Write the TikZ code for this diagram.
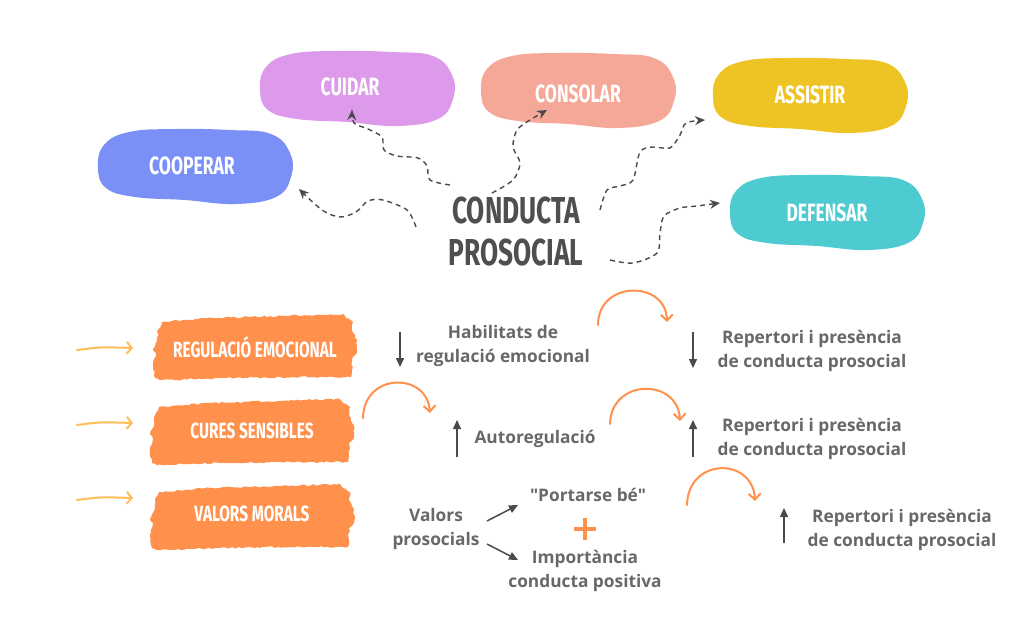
\documentclass[tikz,border=0pt]{standalone}
\usepackage{fontspec}
\setmainfont{Open Sans}
\newfontfamily\hand{Fira Sans}[FakeStretch=0.7]
\usetikzlibrary{arrows.meta,decorations.pathmorphing}
\definecolor{cblue}{HTML}{7A90F7}
\definecolor{cpink}{HTML}{DD99EA}
\definecolor{csalmon}{HTML}{F6A898}
\definecolor{cyel}{HTML}{EDC424}
\definecolor{cteal}{HTML}{4ECBD0}
\definecolor{corange}{HTML}{FF914D}
\definecolor{clight}{HTML}{FFBD59}
\definecolor{ctitle}{HTML}{4F4F4F}
\definecolor{ctext}{HTML}{686868}
\definecolor{carrow}{HTML}{4A4A4A}
\newcommand\myblob[3]{\fill[#3,shift={(#1,#2)}] plot[smooth cycle,tension=0.7] coordinates {(-97,2) (-91,-21) (-66,-34) (-20,-37) (35,-36) (76,-32) (95,-13) (96,11) (81,31) (40,38) (-10,34) (-60,31) (-89,22)};}
\newcommand\mybrush[2]{\fill[corange,shift={(#1,#2)},decorate,decoration={random steps,segment length=3pt,amplitude=0.9pt}] (9,9) -- (60,5) -- (130,3) -- (190,1) -- (193,5) -- (200,9) -- (199,17) -- (204,27) -- (204,40) -- (199,45) -- (199,57) -- (198,64) -- (140,64) -- (70,65) -- (7,67) -- (2,65) -- (0,52) -- (3,40) -- (0,36) -- (4,28) -- (5,17) -- cycle;}
\begin{document}
\begin{tikzpicture}[x=1pt,y=-1pt,
  blobtext/.style={text=white,font=\hand\bfseries\fontsize{25}{28}\selectfont,inner sep=0pt},
  brushtext/.style={text=white,font=\hand\bfseries\fontsize{22}{24}\selectfont,inner sep=0pt},
  titletext/.style={text=ctitle,font=\hand\bfseries\fontsize{37.5}{41}\selectfont,align=center,inner sep=0pt},
  body/.style={text=ctext,font=\bfseries\fontsize{17.3}{24}\selectfont,align=center,inner sep=0pt},
  dasharrow/.style={draw=carrow,line width=1.4pt,dash pattern=on 5pt off 4pt,-{Stealth[length=10pt,width=9pt]}},
  grayarrow/.style={draw=carrow,line width=1.5pt,-{Triangle[length=9pt,width=8pt]}},
  orarc/.style={draw=corange,line width=2pt,line cap=round,-{Straight Barb[length=6pt,width=12pt]}},
  yarrow/.style={draw=clight,line width=2pt,line cap=round,-{Straight Barb[length=5pt,width=12pt]}}]
\pgfmathsetseed{7}
\useasboundingbox[fill=white] (0,0) rectangle (1024,639);
% blobs
\myblob{195}{166}{cblue}
\myblob{357}{88}{cpink}
\myblob{578}{90}{csalmon}
\myblob{810}{95}{cyel}
\myblob{827}{212}{cteal}
\node[blobtext] (coop) at (192,166) {COOPERAR};
\node[blobtext] (cuid) at (350,87) {CUIDAR};
\node[blobtext] (cons) at (578,94) {CONSOLAR};
\node[blobtext] (assi) at (810,95) {ASSISTIR};
\node[blobtext] (defe) at (827,213) {DEFENSAR};
\node[titletext] (title) at (516,232) {CONDUCTA\\[1pt]PROSOCIAL};
% dashed connectors
\coordinate (s1) at (416,227); \coordinate (e1) at (299,189);
\coordinate (s2) at (450,185); \coordinate (e2) at (352,110);
\coordinate (s3) at (492,193); \coordinate (e3) at (547,110);
\coordinate (s4) at (600,210); \coordinate (e4) at (705,120);
\coordinate (s5) at (610,260); \coordinate (e5) at (720,203);
\draw[dasharrow] plot[smooth] coordinates {(s1) (407,210) (383,200) (368,201) (356,212) (340,217) (322,210) (e1)};
\draw[dasharrow] plot[smooth] coordinates {(s2) (430,180) (427,166) (418,158) (397,156) (384,150) (382,137) (368,129) (354,123) (e2)};
\draw[dasharrow] plot[smooth] coordinates {(s3) (513,180) (520,163) (513,147) (517,130) (530,120) (e3)};
\draw[dasharrow] plot[smooth] coordinates {(s4) (607,190) (620,186) (633,180) (640,152) (653,147) (670,148) (680,135) (686,123) (e4)};
\draw[dasharrow] plot[smooth] coordinates {(s5) (633,263) (657,253) (660,233) (664,216) (680,208) (697,206) (e5)};
% brushes
\mybrush{153}{313}
\mybrush{150}{398}
\mybrush{150}{483}
\node[brushtext] (reg) at (255,347) {REGULACIÓ EMOCIONAL};
\node[brushtext] (cur) at (252,431) {CURES SENSIBLES};
\node[brushtext] (val) at (252,514) {VALORS MORALS};
% yellow arrows
\coordinate (y1s) at (77,350); \coordinate (y1e) at (133,348);
\coordinate (y2s) at (77,425); \coordinate (y2e) at (133,423);
\coordinate (y3s) at (77,500); \coordinate (y3e) at (133,498);
\draw[yarrow] (y1s) .. controls (100,347) .. (y1e);
\draw[yarrow] (y2s) .. controls (100,422) .. (y2e);
\draw[yarrow] (y3s) .. controls (100,497) .. (y3e);
% body texts
\node[body] (hab) at (503,346) {Habilitats de\\regulació emocional};
\node[body] (auto) at (535,439) {Autoregulació};
\node[body] (rep1) at (812,351) {Repertori i presència\\de conducta prosocial};
\node[body] (rep2) at (812,439) {Repertori i presència\\de conducta prosocial};
\node[body] (rep3) at (902,530) {Repertori i presència\\de conducta prosocial};
\node[body] (valp) at (436,529) {Valors\\prosocials};
\node[body] (port) at (588,495) {\addfontfeatures{Ligatures=TeXOff}"Portarse bé"};
\node[body] (impo) at (585,571) {Importància\\conducta positiva};
% gray arrows
\coordinate (g1a) at (400,332); \coordinate (g1b) at (400,367);
\coordinate (g2a) at (457,457); \coordinate (g2b) at (457,420);
\coordinate (g3a) at (693,332); \coordinate (g3b) at (693,368);
\coordinate (g4a) at (693,457); \coordinate (g4b) at (693,420);
\coordinate (g5a) at (784,543); \coordinate (g5b) at (784,508);
\draw[grayarrow] (g1a) -- (g1b);
\draw[grayarrow] (g2a) -- (g2b);
\draw[grayarrow] (g3a) -- (g3b);
\draw[grayarrow] (g4a) -- (g4b);
\draw[grayarrow] (g5a) -- (g5b);
\coordinate (v1) at (487,521); \coordinate (v2) at (487,544);
\coordinate (p1) at (518,505); \coordinate (p2) at (518,560);
\draw[grayarrow] (v1) -- (p1);
\draw[grayarrow] (v2) -- (p2);
% plus
\coordinate (plus) at (585,529);
\draw[corange,line width=4pt] ([xshift=-11pt]plus) -- ([xshift=11pt]plus);
\draw[corange,line width=4pt] ([yshift=-11pt]plus) -- ([yshift=11pt]plus);
% orange arcs
\coordinate (a1s) at (363,418); \coordinate (a1e) at (430,413);
\coordinate (a2s) at (598,325); \coordinate (a2e) at (667,322);
\coordinate (a3s) at (610,424); \coordinate (a3e) at (680,421);
\coordinate (a4s) at (687,505); \coordinate (a4e) at (755,501);
\draw[orarc] (a1s) .. controls (364,372) and (427,372) .. (a1e);
\draw[orarc] (a2s) .. controls (598,280) and (666,280) .. (a2e);
\draw[orarc] (a3s) .. controls (611,378) and (678,378) .. (a3e);
\draw[orarc] (a4s) .. controls (688,457) and (753,457) .. (a4e);
\end{tikzpicture}
\end{document}
